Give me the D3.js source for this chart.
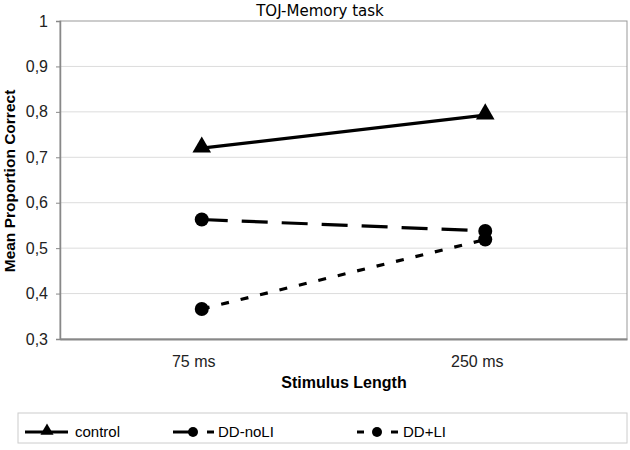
<!DOCTYPE html>
<html>
<head>
<meta charset="utf-8">
<script src="https://cdn.jsdelivr.net/npm/d3@7"></script>
<style>
body { margin: 0; background: #fff; }
svg { display: block; }
svg text { font-family: "Liberation Sans", Arial, sans-serif; }
svg .tick text { font-size: 16px; }
</style>
</head>
<body>
<svg id="chart" width="630" height="450"></svg>
<script>
// data
var categories = ["75 ms", "250 ms"];
var control = [0.72, 0.793];
var ddNoLI = [0.563, 0.538];
var ddLI = [0.366, 0.519];
var yTicks = [0.3, 0.4, 0.5, 0.6, 0.7, 0.8, 0.9, 1];

var series = [
  { name: "control", values: control, dash: null, marker: "triangle" },
  { name: "DD-noLI", values: ddNoLI, dash: "26,14", marker: "circle" },
  { name: "DD+LI", values: ddLI, dash: "8,12", marker: "circle" }
];

function drawChart() {
  var svg = d3.select("#chart");
  var pLeft = 60, pTop = 21, pRight = 627, pBottom = 339;

  var x = d3.scaleBand().domain(categories).range([pLeft, pRight]);
  var y = d3.scaleLinear().domain([0.3, 1]).range([pBottom, pTop]);

  // gridlines
  svg.append("g").selectAll("line")
    .data(yTicks.slice(1, -1))
    .enter().append("line")
      .attr("x1", pLeft).attr("x2", pRight)
      .attr("y1", function(d) { return y(d); })
      .attr("y2", function(d) { return y(d); })
      .style("stroke", "#dcdcdc").style("stroke-width", 1);

  // frame
  svg.append("rect")
    .attr("x", pLeft).attr("y", pTop)
    .attr("width", pRight - pLeft).attr("height", pBottom - pTop)
    .style("fill", "none").style("stroke", "#999").style("stroke-width", 1);

  var fmt = function(d) { return d === 1 ? "1" : d3.format(".1f")(d).replace(".", ","); };

  var yAxis = svg.append("g")
    .attr("transform", "translate(" + pLeft + ",0)")
    .call(d3.axisLeft(y).tickValues(yTicks).tickFormat(fmt).tickSize(4).tickPadding(8));
  yAxis.select(".domain").style("stroke", "#888").style("stroke-width", 1.5);
  yAxis.selectAll(".tick line").style("stroke", "#888");
  yAxis.selectAll(".tick text").style("fill", "#222");

  var xAxis = svg.append("g")
    .attr("transform", "translate(0," + pBottom + ")")
    .call(d3.axisBottom(x).tickSize(0).tickPadding(17));
  xAxis.select(".domain").style("stroke", "#888").style("stroke-width", 2);
  xAxis.selectAll(".tick text").style("fill", "#222").attr("dx", -8);

  // titles
  svg.append("text")
    .attr("x", 320).attr("y", 16)
    .attr("text-anchor", "middle")
    .style("font-family", "'DejaVu Sans', sans-serif")
    .style("font-size", "15px")
    .text("TOJ-Memory task");

  svg.append("text")
    .attr("transform", "translate(15,181) rotate(-90)")
    .attr("text-anchor", "middle")
    .style("font-size", "15.5px").style("font-weight", "bold")
    .text("Mean Proportion Correct");

  svg.append("text")
    .attr("x", 344).attr("y", 388)
    .attr("text-anchor", "middle")
    .style("font-size", "16px").style("font-weight", "bold")
    .text("Stimulus Length");

  var cx = function(i) { return x(categories[i]) + x.bandwidth() / 2; };
  var line = d3.line()
    .x(function(d, i) { return cx(i); })
    .y(function(d) { return y(d); });

  var triangle = d3.symbol().type(d3.symbolTriangle).size(150);

  series.forEach(function(s) {
    svg.append("path")
      .datum(s.values)
      .attr("d", line)
      .style("fill", "none").style("stroke", "#000").style("stroke-width", 3.2)
      .style("stroke-dasharray", s.dash);

    var pts = svg.append("g").selectAll(".pt")
      .data(s.values)
      .enter();
    if (s.marker === "triangle") {
      pts.append("path")
        .attr("d", triangle)
        .attr("transform", function(d, i) { return "translate(" + cx(i) + "," + (y(d) - 1) + ")"; })
        .style("fill", "#000");
    } else {
      pts.append("circle")
        .attr("cx", function(d, i) { return cx(i); })
        .attr("cy", function(d) { return y(d); })
        .attr("r", 7)
        .style("fill", "#000");
    }
  });

  // legend
  var lg = svg.append("g");
  lg.append("rect")
    .attr("x", 18).attr("y", 413).attr("width", 609).attr("height", 30)
    .style("fill", "#fff").style("stroke", "#ccc").style("stroke-width", 1);

  var ly = 432;
  var seg = function(x1, x2) {
    lg.append("line").attr("x1", x1).attr("x2", x2).attr("y1", ly).attr("y2", ly)
      .style("stroke", "#000").style("stroke-width", 3);
  };
  // control
  seg(25, 68);
  lg.append("path").attr("d", d3.symbol().type(d3.symbolTriangle).size(75))
    .attr("transform", "translate(47," + (ly - 1) + ")").style("fill", "#000");
  // DD-noLI
  seg(173, 190);
  lg.append("circle").attr("cx", 193).attr("cy", ly).attr("r", 5).style("fill", "#000");
  seg(207, 214);
  // DD+LI
  seg(357, 364);
  lg.append("circle").attr("cx", 377).attr("cy", ly).attr("r", 5).style("fill", "#000");
  seg(391, 398);

  var legendTextX = [75, 218, 403];
  series.forEach(function(s, i) {
    lg.append("text")
      .attr("x", legendTextX[i]).attr("y", ly + 5)
      .style("font-size", "15px")
      .text(s.name);
  });
}

drawChart();
</script>
</body>
</html>
